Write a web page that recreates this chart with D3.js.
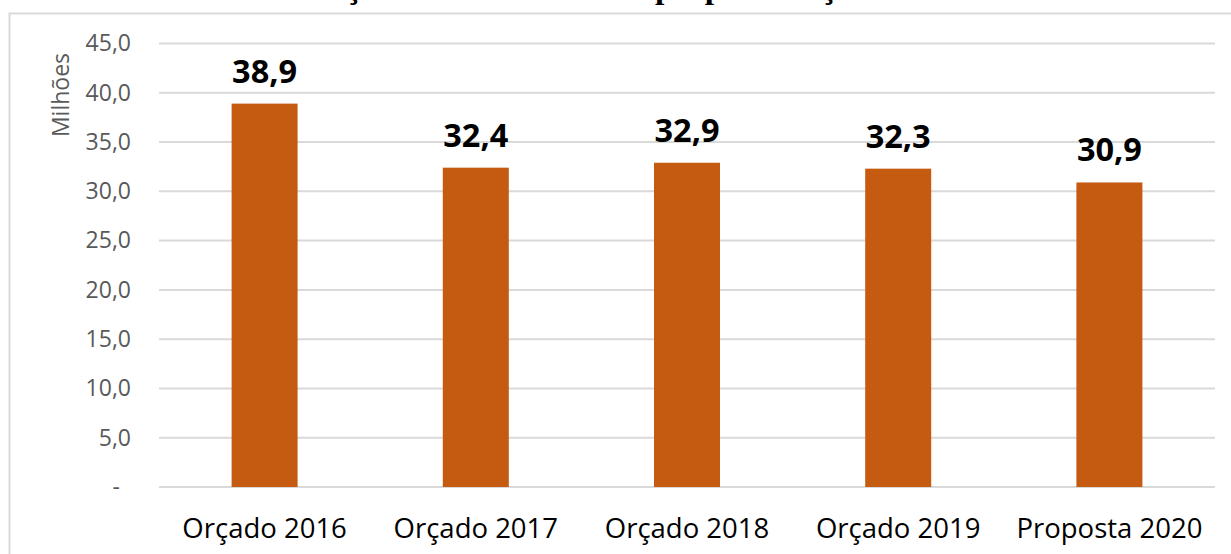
<!DOCTYPE html>
<html>
<head>
<meta charset="utf-8">
<script src="https://cdn.jsdelivr.net/npm/d3@7"></script>
<style>
  body { margin: 0; background: #fff; }
  svg { display: block; }
</style>
</head>
<body>
<svg id="chart" width="1231" height="554"></svg>
<script>
// chart data
var categories = ["Orçado 2016", "Orçado 2017", "Orçado 2018", "Orçado 2019", "Proposta 2020"];
var values = [38.9, 32.4, 32.9, 32.3, 30.9];
var yTicks = [0, 5, 10, 15, 20, 25, 30, 35, 40, 45];
var yTitle = "Milhões";
var title = "Evolução dos recursos e da proposta orçamentária";

var svg = d3.select("#chart"),
    width = +svg.attr("width"),
    height = +svg.attr("height");

var margin = {top: 43.5, right: 16, bottom: 67, left: 159};

var pt = d3.formatLocale({decimal: ",", thousands: ".", grouping: [3], currency: ["R$ ", ""]});
var fmt = pt.format(".1f");

var x = d3.scaleBand()
    .domain(categories)
    .range([margin.left, width - margin.right])
    .paddingInner(0.6875)
    .paddingOuter(0.34375);

var y = d3.scaleLinear()
    .domain([0, 45])
    .range([height - margin.bottom, margin.top]);

// chart frame (cut off at right and bottom like the picture)
svg.append("rect")
    .attr("x", 9.5).attr("y", 13.5)
    .attr("width", 1400).attr("height", 700)
    .attr("fill", "none")
    .attr("stroke", "#d9d9d9")
    .attr("stroke-width", 2);

// title, mostly above the visible area (only descenders show)
svg.append("text")
    .attr("x", 262).attr("y", -2.5)
    .attr("font-family", "Liberation Serif, serif")
    .attr("font-weight", "bold")
    .attr("font-size", 33.5)
    .attr("fill", "#000")
    .text(title);

// gridlines
svg.append("g")
    .selectAll("line")
    .data(yTicks)
    .enter().append("line")
    .attr("x1", margin.left).attr("x2", width - margin.right)
    .attr("y1", function(d) { return y(d); })
    .attr("y2", function(d) { return y(d); })
    .attr("stroke", "#d9d9d9")
    .attr("stroke-width", 2);

// y axis labels
var yAxis = d3.axisLeft(y)
    .tickValues(yTicks)
    .tickSize(0)
    .tickPadding(28)
    .tickFormat(function(d) { return d === 0 ? "-" : fmt(d); });

var yg = svg.append("g")
    .attr("transform", "translate(" + margin.left + ",0)")
    .call(yAxis);
yg.select(".domain").remove();
yg.selectAll("text")
    .attr("font-family", "Open Sans, sans-serif")
    .attr("font-size", 23)
    .attr("fill", "#595959")
    .attr("dx", function(d) { return d === 0 ? -11 : 0; });

// y axis title
svg.append("text")
    .attr("transform", "translate(69,95) rotate(-90)")
    .attr("text-anchor", "middle")
    .attr("font-family", "Open Sans, sans-serif")
    .attr("font-size", 23)
    .attr("fill", "#595959")
    .text(yTitle);

// bars
svg.append("g")
    .selectAll("rect")
    .data(values)
    .enter().append("rect")
    .attr("x", function(d, i) { return x(categories[i]); })
    .attr("y", function(d) { return y(d); })
    .attr("width", x.bandwidth())
    .attr("height", function(d) { return y(0) - y(d); })
    .attr("fill", "#c55a11");

// data labels
svg.append("g")
    .selectAll("text")
    .data(values)
    .enter().append("text")
    .attr("x", function(d, i) { return x(categories[i]) + x.bandwidth() / 2; })
    .attr("y", function(d) { return y(d) - 21; })
    .attr("text-anchor", "middle")
    .attr("font-family", "Open Sans, sans-serif")
    .attr("font-weight", "bold")
    .attr("font-size", 32.5)
    .attr("fill", "#000")
    .text(function(d) { return fmt(d); });

// x axis labels
var xAxis = d3.axisBottom(x).tickSize(0).tickPadding(0);
var xg = svg.append("g")
    .attr("transform", "translate(0," + y(0) + ")")
    .call(xAxis);
xg.select(".domain").remove();
xg.selectAll("text")
    .attr("dy", 0)
    .attr("y", 51)
    .attr("font-family", "Open Sans, sans-serif")
    .attr("font-size", 27.5)
    .attr("fill", "#000");
</script>
</body>
</html>
